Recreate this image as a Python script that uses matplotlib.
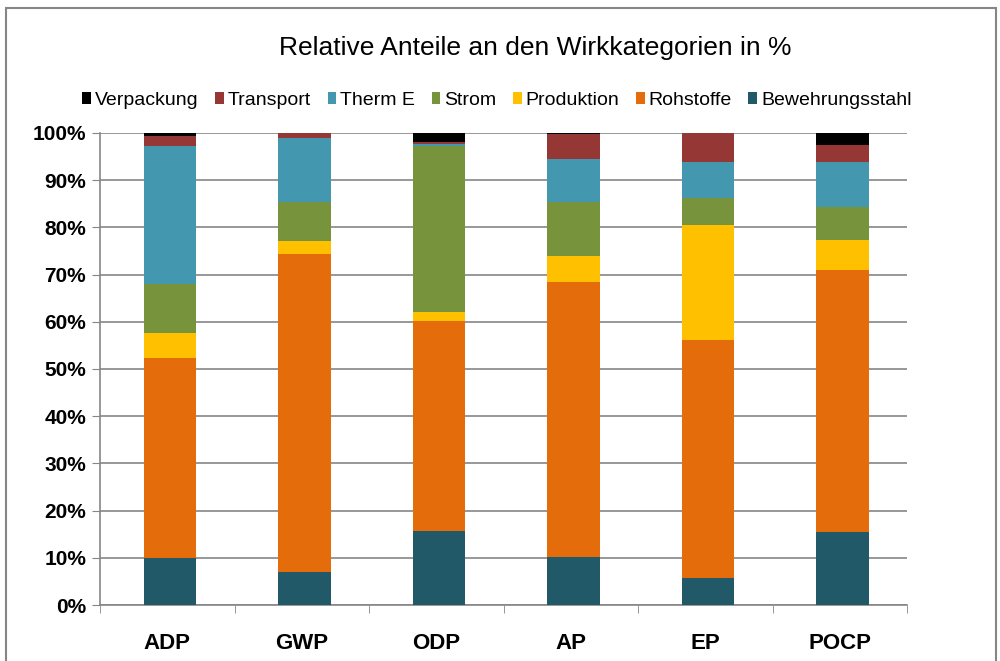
import numpy as np
import matplotlib.pyplot as plt
from matplotlib.patches import Rectangle

plt.rcParams['font.family'] = ['Liberation Sans', 'DejaVu Sans']

categories = ['ADP', 'GWP', 'ODP', 'AP', 'EP', 'POCP']

# shares per category in %, bottom to top
bewehrungsstahl = [10.0, 7.0, 15.7, 10.2, 5.7, 15.5]
rohstoffe = [42.3, 67.4, 44.5, 58.2, 50.4, 55.5]
produktion = [5.3, 2.7, 1.9, 5.5, 24.4, 6.3]
strom = [10.4, 8.3, 35.1, 11.5, 5.8, 6.9]
therm_e = [29.2, 13.5, 0.5, 9.0, 7.6, 9.7]
transport = [2.2, 1.1, 0.3, 5.3, 6.1, 3.6]
verpackung = [0.6, 0.0, 2.0, 0.3, 0.0, 2.5]

series = [
    ('Bewehrungsstahl', bewehrungsstahl, '#215968'),
    ('Rohstoffe', rohstoffe, '#E46C0A'),
    ('Produktion', produktion, '#FFC000'),
    ('Strom', strom, '#77933C'),
    ('Therm E', therm_e, '#4397AF'),
    ('Transport', transport, '#953735'),
    ('Verpackung', verpackung, '#000000'),
]

fig = plt.figure(figsize=(10, 6.61), dpi=100)
ax = fig.add_axes([0.1, 0.0847, 0.807, 0.7143])

x = np.arange(len(categories))
bottom = np.zeros(len(categories))
handles = []
for name, vals, col in series:
    vals = np.array(vals)
    b = ax.bar(x + 0.02, vals, bottom=bottom, width=0.39, color=col, label=name, zorder=3)
    handles.append(b)
    bottom += vals

ax.set_xlim(-0.5, len(categories) - 0.5)
ax.set_ylim(0, 100)
ax.set_yticks(np.arange(0, 101, 10))
ax.set_yticklabels([f'{v}%' for v in range(0, 101, 10)], fontsize=15, fontweight='bold')
ax.set_xticks(x)
ax.set_xticklabels(categories, fontsize=16, fontweight='bold')
ax.tick_params(axis='x', which='major', length=0, pad=20)
ax.set_xticks(np.arange(-0.5, len(categories)), minor=True)
ax.tick_params(axis='x', which='minor', length=6, color='#868686', direction='out')
ax.tick_params(axis='y', length=6, color='#868686', direction='out', pad=4)
ax.grid(axis='y', color='#868686', linewidth=1.2, zorder=0)
for s in ['top', 'right']:
    ax.spines[s].set_visible(False)
for s in ['left', 'bottom']:
    ax.spines[s].set_color('#868686')
    ax.spines[s].set_linewidth(1.2)

fig.text(0.535, 0.928, 'Relative Anteile an den Wirkkategorien in %', ha='center', va='center', fontsize=19)

leg = fig.legend(handles[::-1], [s[0] for s in series][::-1], loc='center', bbox_to_anchor=(0.497, 0.848),
                 ncol=7, frameon=False, fontsize=14, handlelength=0.45, handleheight=0.55,
                 handletextpad=0.2, columnspacing=0.85)

fig.patches.append(Rectangle((0.006, -0.05), 0.99, 1.038, transform=fig.transFigure,
                             fill=False, edgecolor='#868686', linewidth=1.5))

fig.savefig('out.png', dpi=100)
